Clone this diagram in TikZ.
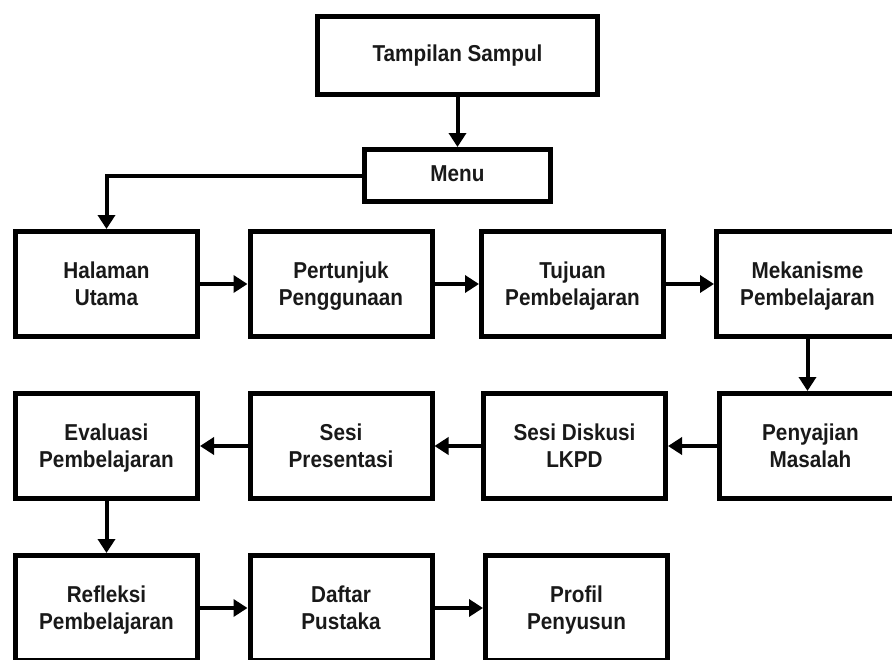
\documentclass[tikz,border=0pt]{standalone}
\usepackage{fontspec}
\newfontfamily\boxfont{Liberation Sans}[FakeStretch=0.9]
\usetikzlibrary{arrows.meta}
\newcommand\bxs{\rule[-5pt]{0pt}{21.5pt}}
\newcommand\bxt{\rule[-5pt]{0pt}{25.5pt}}
\newcommand\twolines[2]{\bxt #1\\\bxs #2}
\tikzset{
  box/.style={draw=black, line width=5pt, inner sep=0pt, align=center,
    minimum width=182pt, minimum height=105pt,
    font=\boxfont\bfseries\fontsize{23}{26.5}\selectfont, text=black!90},
  flow/.style={line width=4pt, -{Triangle[length=14pt,width=17pt]}}
}
\begin{document}
\begin{tikzpicture}[x=1pt,y=-1pt]
\useasboundingbox (0,0) rectangle (892,659);
\node[box, minimum width=280pt, minimum height=78pt] (sampul) at (457.5,55.5) {\bxs Tampilan Sampul};
\node[box, minimum width=186pt, minimum height=52pt] (menu) at (457.5,175.5) {\bxs Menu};

\node[box] (halaman) at (106.5,284) {\twolines{Halaman}{Utama}};
\node[box] (pertunjuk) at (341,284) {\twolines{Pertunjuk}{Penggunaan}};
\node[box] (tujuan) at (572.5,284) {\twolines{Tujuan}{Pembelajaran}};
\node[box] (mekanisme) at (807.5,284) {\twolines{Mekanisme}{Pembelajaran}};

\node[box] (evaluasi) at (106.5,446) {\twolines{Evaluasi}{Pembelajaran}};
\node[box] (presentasi) at (341,446) {\twolines{Sesi}{Presentasi}};
\node[box] (diskusi) at (574.5,446) {\twolines{Sesi Diskusi}{LKPD}};
\node[box] (penyajian) at (810.5,446) {\twolines{Penyajian}{Masalah}};

\node[box] (refleksi) at (106.5,608) {\twolines{Refleksi}{Pembelajaran}};
\node[box] (daftar) at (341,608) {\twolines{Daftar}{Pustaka}};
\node[box] (profil) at (576.5,608) {\twolines{Profil}{Penyusun}};

\draw[flow] (sampul.south) -- (menu.north);
\draw[flow] (menu.west) -| (halaman.north);
\draw[flow] (halaman) -- (pertunjuk);
\draw[flow] (pertunjuk) -- (tujuan);
\draw[flow] (tujuan) -- (mekanisme);
\draw[flow] (mekanisme.south) -- (mekanisme.south |- penyajian.north);
\draw[flow] (penyajian) -- (diskusi);
\draw[flow] (diskusi) -- (presentasi);
\draw[flow] (presentasi) -- (evaluasi);
\draw[flow] (evaluasi) -- (refleksi);
\draw[flow] (refleksi) -- (daftar);
\draw[flow] (daftar) -- (profil);
\end{tikzpicture}
\end{document}
